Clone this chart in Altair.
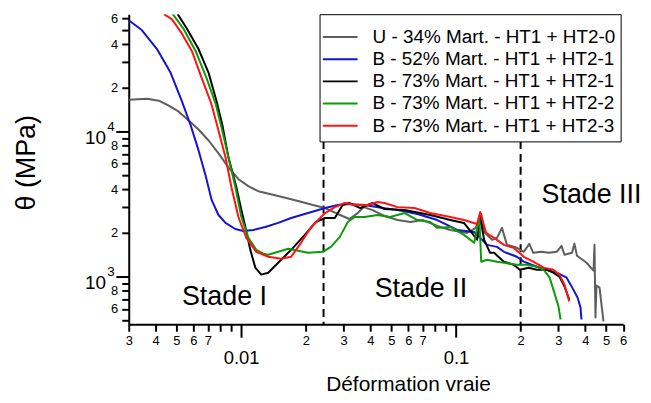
import altair as alt
import pandas as pd

# ---------------- data ----------------
series_names = [
    "U - 34% Mart. - HT1 + HT2-0",
    "B - 52% Mart. - HT1 + HT2-1",
    "B - 73% Mart. - HT1 + HT2-1",
    "B - 73% Mart. - HT1 + HT2-2",
    "B - 73% Mart. - HT1 + HT2-3",
]
series_colors = ["#5e5e5e", "#1414d2", "#000000", "#0b9a0b", "#ff1414"]

u34_x = [0.00301, 0.00365, 0.00414, 0.00461, 0.00513, 0.0057, 0.00634, 0.00706, 0.00785, 0.00873,
         0.00972, 0.01081, 0.01202, 0.01488, 0.01842, 0.0216, 0.0246, 0.0282, 0.0319, 0.0349,
         0.0372, 0.0409, 0.0465, 0.0535, 0.0615, 0.0700, 0.0819, 0.0942, 0.1128, 0.1237,
         0.1311, 0.1353, 0.1474, 0.1553, 0.1637, 0.1728, 0.1922, 0.207, 0.2196, 0.229,
         0.25, 0.271, 0.2944, 0.31, 0.32, 0.347, 0.356, 0.366, 0.4055, 0.437,
         0.4415, 0.446, 0.451, 0.466, 0.486]
u34_y = [16560, 16830, 16300, 15070, 13700, 11890, 10320, 8670, 7060, 5660,
         4690, 4200, 3880, 3590, 3320, 3113, 2970, 2703, 2495, 2742,
         3013, 2875, 2620, 2455, 2380, 2455, 2235, 2097, 2000, 2168,
         2703, 2033, 1791, 1850, 2168, 1656, 1580, 1483, 1683, 1459,
         1483, 1459, 1483, 1630, 1416, 1459, 1683, 1393, 1247, 1099,
         1656, 524, 868, 841, 492]

b52_x = [0.00301, 0.00345, 0.00406, 0.0047, 0.00529, 0.00583, 0.00634, 0.00683, 0.0073, 0.00785,
         0.00846, 0.0094, 0.01025, 0.0114, 0.01295, 0.01488, 0.0171, 0.0205, 0.0246, 0.0282,
         0.0314, 0.0376, 0.0456, 0.0535, 0.0662, 0.0819, 0.1014, 0.1216, 0.1297, 0.1396,
         0.1553, 0.1672, 0.1922, 0.207, 0.2379, 0.2647, 0.2944, 0.3276, 0.352, 0.368,
         0.38, 0.384]
b52_y = [58200, 50000, 37000, 25350, 16300, 11000, 7410, 5000, 3366, 2660,
         2345, 2130, 2065, 2097, 2200, 2345, 2535, 2742, 2970, 3113,
         3162, 3113, 2970, 2875, 2703, 2455, 2097, 2030, 1850, 1656,
         1604, 1483, 1371, 1268, 1171, 1116, 1065, 984, 814, 718,
         614, 507]

b73a_x = [0.00507, 0.00558, 0.00634, 0.00706, 0.00768, 0.00819, 0.00873, 0.00951, 0.01003, 0.01047,
          0.01104, 0.01165, 0.01241, 0.01338, 0.01488, 0.0171, 0.0198, 0.0223, 0.0246, 0.0273,
          0.0297, 0.0319, 0.0359, 0.0409, 0.0465, 0.0577, 0.0759, 0.0942, 0.109, 0.1255,
          0.1297, 0.1353, 0.1443, 0.1505, 0.1672, 0.1857, 0.1983, 0.218, 0.2379, 0.2647,
          0.284, 0.303, 0.32, 0.337]
b73a_y = [64300, 51500, 37000, 25350, 16300, 11000, 6640, 4130, 2875, 2200,
          1530, 1153, 1033, 1065, 1247, 1530, 1940, 2380, 2535, 2535,
          3113, 3216, 2970, 3216, 2925, 2875, 2660, 2455, 2345, 1800,
          2575, 1791, 1459, 1459, 1268, 1208, 1116, 1153, 1116, 1116,
          1065, 1000, 855, 695]

b73b_x = [0.00481, 0.00541, 0.00614, 0.0069, 0.00761, 0.00811, 0.00873, 0.00941, 0.01003, 0.01081,
          0.01177, 0.01268, 0.01338, 0.01488, 0.01656, 0.01842, 0.0205, 0.024, 0.0262, 0.0288,
          0.0314, 0.0338, 0.0376, 0.0432, 0.0494, 0.0577, 0.0662, 0.0759, 0.0819, 0.0942,
          0.109, 0.1216, 0.1285, 0.1311, 0.1396, 0.1553, 0.1672, 0.1922, 0.2138, 0.2379,
          0.256, 0.273, 0.287, 0.30, 0.307]
b73b_y = [64300, 50700, 35900, 23440, 15560, 10650, 6640, 4130, 2575, 1850,
          1530, 1440, 1416, 1483, 1556, 1507, 1459, 1483, 1604, 1880,
          2380, 2575, 2575, 2660, 2575, 2742, 2455, 2380, 2168, 2200,
          1940, 1710, 2575, 1268, 1306, 1268, 1247, 1208, 1208, 1171,
          1116, 984, 776, 624, 507]

b73c_x = [0.00437, 0.00476, 0.00529, 0.0059, 0.00655, 0.00727, 0.00785, 0.00846, 0.00902, 0.00972,
          0.01058, 0.01177, 0.01338, 0.01536, 0.0171, 0.019, 0.0212, 0.0246, 0.0273, 0.0304,
          0.0338, 0.0389, 0.0432, 0.0465, 0.0535, 0.0641, 0.0759, 0.0942, 0.109, 0.1255,
          0.1297, 0.1383, 0.1505, 0.1672, 0.1857, 0.207, 0.229, 0.256, 0.284, 0.303,
          0.32, 0.337]
b73c_y = [64300, 59400, 47600, 35900, 23440, 15560, 10160, 6640, 4130, 2575,
          1850, 1483, 1371, 1327, 1371, 1710, 2200, 2742, 3013, 3216,
          3113, 3113, 3266, 3216, 3013, 2970, 2742, 2575, 2455, 2305,
          2787, 2000, 1850, 1656, 1580, 1371, 1268, 1153, 1116, 1033,
          881, 675]

# stage boundaries and labels
stage_bounds = [0.0242, 0.2]
stage_labels = ["Stade I", "Stade II", "Stade III"]
stage_label_x = [0.00837, 0.0687, 0.4276]
stage_label_y = [718, 815, 3645]

# tick values / labels
x_minor_vals = [0.003, 0.004, 0.005, 0.006, 0.007, 0.008, 0.009,
                0.02, 0.03, 0.04, 0.05, 0.06, 0.07, 0.08, 0.09,
                0.2, 0.3, 0.4, 0.5, 0.6]
x_minor_text = ["3", "4", "5", "6", "7", "", "",
                "2", "3", "4", "5", "6", "7", "", "",
                "2", "3", "4", "5", "6"]
x_major_vals = [0.01, 0.1]
x_major_text = ["0.01", "0.1"]
y_minor_vals = [500, 600, 700, 800, 900,
                2000, 3000, 4000, 5000, 6000, 7000, 8000, 9000,
                20000, 30000, 40000, 50000, 60000]
y_minor_text = ["", "6", "", "8", "",
                "2", "", "4", "", "6", "", "8", "",
                "2", "", "4", "", "6"]
y_major_vals = [1000, 10000]
y_major_base = ["10", "10"]
y_major_exp = ["3", "4"]

x_domain = [0.003, 0.6]
y_domain = [470, 64300]

# ---------------- build tables ----------------
all_x = [u34_x, b52_x, b73a_x, b73b_x, b73c_x]
all_y = [u34_y, b52_y, b73a_y, b73b_y, b73c_y]
rows = []
for k, (name, xs, ys) in enumerate(zip(series_names, all_x, all_y)):
    assert len(xs) == len(ys), name
    for i, (xv, yv) in enumerate(zip(xs, ys)):
        rows.append({"strain": xv, "theta": yv, "series": name, "sk": k, "idx": i})
df = pd.DataFrame(rows)

bounds_df = pd.DataFrame({"x": stage_bounds,
                          "top": [8600] * len(stage_bounds),
                          "bottom": [y_domain[0]] * len(stage_bounds)})
labels_df = pd.DataFrame({"x": stage_label_x, "y": stage_label_y, "t": stage_labels})


def label_expr(vals, texts):
    arr_t = "[" + ",".join("'" + t + "'" for t in texts) + "]"
    arr_v = "[" + ",".join(repr(v) for v in vals) + "]"
    return f"{arr_t}[indexof({arr_v}, datum.value)]"


x_scale = alt.Scale(type="log", domain=x_domain, nice=False)
y_scale = alt.Scale(type="log", domain=y_domain, nice=False)

x_minor_axis = alt.Axis(orient="bottom", values=x_minor_vals,
                        labelExpr=label_expr(x_minor_vals, x_minor_text),
                        tickSize=7, labelPadding=3, labelFontSize=13,
                        labelOverlap=False, labelFlush=False, title=None)
x_major_axis = alt.Axis(orient="bottom", values=x_major_vals,
                        labelExpr=label_expr(x_major_vals, x_major_text),
                        tickSize=13, labelPadding=12, labelFontSize=18.5,
                        labelOverlap=False, labelFlush=False, domain=False,
                        title="Déformation vraie", titleFontSize=21,
                        titleFontWeight="normal", titleX=281, titleY=67,
                        titleAlign="center", titleBaseline="alphabetic")
y_minor_axis = alt.Axis(orient="left", values=y_minor_vals,
                        labelExpr=label_expr(y_minor_vals, y_minor_text),
                        tickSize=7, labelPadding=4, labelFontSize=13,
                        labelOverlap=False, labelFlush=False, title=None)
y_major_axis = alt.Axis(orient="left", values=y_major_vals,
                        labelExpr=label_expr(y_major_vals, y_major_base),
                        tickSize=13, labelPadding=10.5, labelFontSize=19,
                        labelOffset=6, labelOverlap=False, labelFlush=False,
                        domain=False,
                        title="θ (MPa)", titleFontSize=27, titleFontWeight="normal",
                        titleAngle=270, titleX=-103, titleY=149,
                        titleAlign="center", titleBaseline="middle")
y_exp_axis = alt.Axis(orient="left", values=y_major_vals,
                      labelExpr=label_expr(y_major_vals, y_major_exp),
                      ticks=True, tickSize=0, tickWidth=0, labelPadding=14.5,
                      labelFontSize=13.5, labelOffset=-5, labelOverlap=False,
                      labelFlush=False, domain=False, title=None)

rules = alt.Chart(bounds_df).mark_rule(
    strokeDash=[8, 5], strokeWidth=2, color="black"
).encode(
    x=alt.X("x:Q", scale=x_scale, axis=x_major_axis),
    y=alt.Y("top:Q", scale=y_scale, axis=y_major_axis),
    y2="bottom:Q",
)

lines = alt.Chart(df).mark_line(strokeWidth=2, clip=True, strokeJoin="round").encode(
    x=alt.X("strain:Q", scale=x_scale, axis=x_minor_axis),
    y=alt.Y("theta:Q", scale=y_scale, axis=y_minor_axis),
    color=alt.Color("series:N",
                    scale=alt.Scale(domain=series_names, range=series_colors),
                    legend=alt.Legend(title=" ", titleFontSize=6, titlePadding=0,
                                      orient="none", legendX=192, legendY=0,
                                      fillColor="white", strokeColor="black", padding=5,
                                      labelFontSize=19, labelOffset=20.5, labelLimit=400,
                                      labelColor="black",
                                      symbolType="M-1.65,0H1.65", symbolSize=450,
                                      symbolOffset=3.8,
                                      symbolStrokeWidth=2, rowPadding=0.3)),
    order=alt.Order("idx:Q"),
    detail="sk:N",
)

texts = alt.Chart(labels_df).mark_text(fontSize=27, color="black", align="center",
                                       baseline="middle").encode(
    x=alt.X("x:Q", scale=x_scale, axis=None),
    y=alt.Y("y:Q", scale=y_scale, axis=y_exp_axis),
    text="t:N",
)

chart = alt.layer(rules, lines, texts).resolve_axis(
    x="independent", y="independent"
).properties(
    width=497.5, height=312,
    autosize=alt.AutoSizeParams(type="none"),
    padding={"left": 121.5, "top": 5, "right": 20, "bottom": 75},
).configure(
    font="Liberation Sans"
).configure_view(
    stroke=None
).configure_axis(
    domainColor="black", tickColor="black", labelColor="black", titleColor="black",
    domainWidth=2, tickWidth=2, grid=False,
)

chart.save("out.html", embed_options={"renderer": "svg", "actions": False})
